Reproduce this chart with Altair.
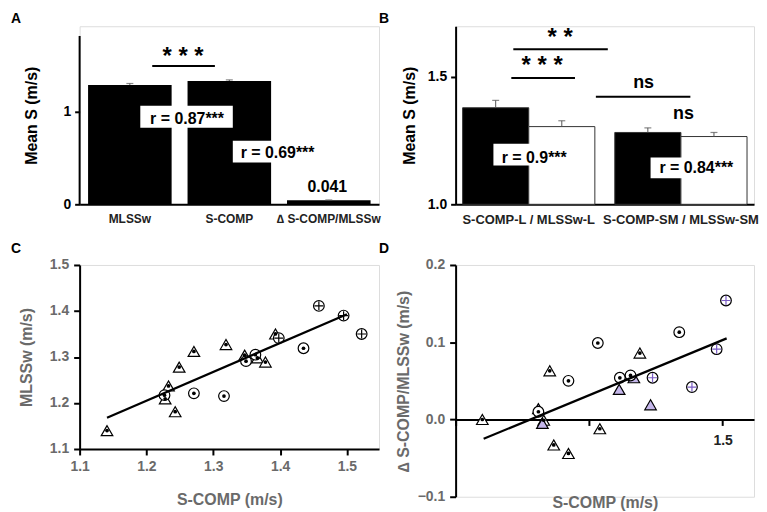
import altair as alt
import pandas as pd

FONT = "Liberation Sans"
GRAY = "#6a6a6a"
PURPLE_FILL = "#c4b6ea"
PURPLE = "#7a5cc4"

# ---------------- Panel A data ----------------
a_cats = ["MLSSw", "S-COMP", "∆ S-COMP/MLSSw"]
a_vals = [1.290, 1.333, 0.043]
a_errs = [0.016, 0.012, 0.004]

# ---------------- Panel B data ----------------
b_groups = ["S-COMP-L / MLSSw-L", "S-COMP-SM / MLSSw-SM"]
b_series = ["S-COMP", "MLSSw"]
b_scomp = [1.379, 1.282]
b_scomp_err = [0.029, 0.018]
b_mlss = [1.305, 1.266]
b_mlss_err = [0.023, 0.016]

# ---------------- Panel C data ----------------
c_tri_x = [1.141, 1.228, 1.233, 1.249, 1.243, 1.271, 1.319, 1.347, 1.366, 1.378, 1.393]
c_tri_y = [1.140, 1.209, 1.237, 1.278, 1.181, 1.312, 1.327, 1.304, 1.298, 1.289, 1.350]
c_circ_x = [1.227, 1.271, 1.316, 1.349, 1.363, 1.435]
c_circ_y = [1.217, 1.221, 1.215, 1.291, 1.305, 1.319]
c_plus_x = [1.398, 1.458, 1.495, 1.522]
c_plus_y = [1.341, 1.411, 1.390, 1.350]
c_fit_x = [1.141, 1.500]
c_fit_y = [1.168, 1.393]

# ---------------- Panel D data ----------------
d_tri_x = [1.140, 1.232, 1.241, 1.247, 1.269, 1.316, 1.376]
d_tri_y = [0.000, -0.001, 0.063, -0.033, -0.044, -0.012, 0.086]
d_trip_x = [1.224, 1.230, 1.345, 1.367, 1.392]
d_trip_y = [0.014, -0.005, 0.039, 0.054, 0.019]
d_circ_x = [1.224, 1.269, 1.313, 1.346, 1.362, 1.435]
d_circ_y = [0.010, 0.050, 0.099, 0.054, 0.057, 0.113]
d_plus_x = [1.395, 1.454, 1.491, 1.505]
d_plus_y = [0.054, 0.042, 0.091, 0.154]
d_fit_x = [1.142, 1.506]
d_fit_y = [-0.025, 0.105]


# ---------------- helpers ----------------
def hline(y, x0, x1):
    return alt.Chart(pd.DataFrame({"val": [y]})).mark_rule(color="black", strokeWidth=2).encode(
        y="val:Q", x=alt.value(x0), x2=alt.value(x1))


def label(t, x, y, size, weight="bold"):
    return alt.Chart(pd.DataFrame({"val": [y], "t": [t]})).mark_text(
        font=FONT, fontSize=size, fontWeight=weight, color="black", align="center", baseline="alphabetic"
    ).encode(y="val:Q", x=alt.value(x), text="t:N")


def box(x0, x1, y0, y1):
    return alt.Chart(pd.DataFrame({"val": [y0], "val2": [y1]})).mark_rect(color="white").encode(
        x=alt.value(x0), x2=alt.value(x1), y="val:Q", y2="val2:Q")


def letter(t, x, y):
    return alt.Chart(pd.DataFrame({"t": [t]})).mark_text(
        font=FONT, fontSize=14, fontWeight="bold", color="black", align="left", baseline="alphabetic"
    ).encode(text="t:N", x=alt.value(x), y=alt.value(y))


# ---------------- Panel A ----------------
dfA = pd.DataFrame({"cat": a_cats, "val": a_vals, "top": [v + e for v, e in zip(a_vals, a_errs)]})
xA = alt.X("cat:N", sort=a_cats, title=None,
           scale=alt.Scale(paddingInner=0.16, paddingOuter=0.085),
           axis=alt.Axis(labelAngle=0, ticks=False, domainColor="black", domainWidth=2,
                         labelFont=FONT, labelFontSize=12, labelFontWeight="bold",
                         labelColor="#222", labelPadding=9, labelOverlap=False))
yA = alt.Y("val:Q", title="Mean S (m/s)", scale=alt.Scale(domain=[0, 1.925], nice=False),
           axis=alt.Axis(values=[0, 1], format="d", domain=False, grid=False, tickColor="black",
                         tickWidth=2, tickSize=5, labelFont=FONT, labelFontSize=14,
                         labelFontWeight="bold", labelColor="black", labelPadding=4,
                         titleFont=FONT, titleFontSize=16, titleFontWeight="bold",
                         titleColor="black", titlePadding=24))
xA_plain = alt.X("cat:N", sort=a_cats)

barsA = alt.Chart(dfA).mark_bar(color="black").encode(x=xA, y=yA)
errA = alt.Chart(dfA).mark_rule(color="#555", strokeWidth=1).encode(x=xA_plain, y="val:Q", y2="top:Q")
capA = alt.Chart(dfA).mark_tick(color="#555", thickness=1.2, size=7, orient="horizontal").encode(
    x=xA_plain, y="top:Q")
axA = alt.Chart(pd.DataFrame({"val": [0.0], "val2": [1.82]})).mark_rule(color="black", strokeWidth=2).encode(
    x=alt.value(0), y="val:Q", y2="val2:Q")

panelA = alt.layer(
    barsA, errA, capA, axA,
    hline(1.495, 73, 136), label("* * *", 104, 1.52, 24),
    box(61, 154, 1.065, 0.828), label("r = 0.87***", 108, 0.871, 16),
    box(154, 241, 0.688, 0.452), label("r = 0.69***", 199, 0.505, 16),
    label("0.041", 249, 0.129, 16),
    letter("A", -69, -3),
).properties(width=301, height=179)

# ---------------- Panel B ----------------
rows = []
for g, s, se, m, me in zip(b_groups, b_scomp, b_scomp_err, b_mlss, b_mlss_err):
    rows.append({"group": g, "series": "S-COMP", "val": s, "top": s + se, "base": 1.0})
    rows.append({"group": g, "series": "MLSSw", "val": m, "top": m + me, "base": 1.0})
dfB = pd.DataFrame(rows)

xB = alt.X("group:N", sort=b_groups, title=None,
           scale=alt.Scale(paddingInner=0.131, paddingOuter=0.046),
           axis=alt.Axis(labelAngle=0, ticks=False, domainColor="black", domainWidth=2,
                         labelFont=FONT, labelFontSize=13, labelFontWeight="bold",
                         labelColor="#222", labelPadding=9, labelOverlap=False))
xB_plain = alt.X("group:N", sort=b_groups)
xoB = alt.XOffset("series:N", sort=b_series, scale=alt.Scale(paddingInner=0, paddingOuter=0))
yB = alt.Y("val:Q", title="Mean S (m/s)", stack=None,
           scale=alt.Scale(domain=[1.0, 1.699], nice=False, zero=False),
           axis=alt.Axis(values=[1.0, 1.5], format=".1f", grid=False, domainColor="black",
                         domainWidth=2, tickColor="black", tickWidth=2, tickSize=5,
                         labelFont=FONT, labelFontSize=14, labelFontWeight="bold",
                         labelColor="black", labelPadding=4, titleFont=FONT, titleFontSize=16,
                         titleFontWeight="bold", titleColor="black", titlePadding=10))

barsB = alt.Chart(dfB).mark_bar(stroke="#333", strokeWidth=1).encode(
    x=xB, xOffset=xoB, y=yB, y2="base:Q",
    fill=alt.Fill("series:N", scale=alt.Scale(domain=b_series, range=["black", "white"]), legend=None))
errB = alt.Chart(dfB).mark_rule(color="#555", strokeWidth=1).encode(
    x=xB_plain, xOffset=xoB, y="val:Q", y2="top:Q")
capB = alt.Chart(dfB).mark_tick(color="#555", thickness=1.2, size=7, orient="horizontal").encode(
    x=xB_plain, xOffset=xoB, y="top:Q")

panelB = alt.layer(
    barsB, errB, capB,
    hline(1.609, 58, 153), label("* *", 105, 1.627, 24),
    hline(1.496, 56, 120), label("* * *", 87, 1.514, 24),
    hline(1.422, 141, 236), label("ns", 189, 1.458, 18),
    label("ns", 229, 1.333, 18),
    box(38, 113, 1.238, 1.152), label("r = 0.9***", 79, 1.164, 16),
    box(196, 283, 1.184, 1.102), label("r = 0.84***", 242, 1.121, 16),
    letter("B", -77, -3),
).properties(width=300, height=179)


# ---------------- scatter helpers ----------------
def pts(xs, ys):
    return pd.DataFrame({"x": xs, "y": ys})


def tri(df, fill="white"):
    return alt.Chart(df).mark_point(shape="triangle-up", filled=True, fill=fill, stroke="black",
                                    strokeWidth=1.2, size=135, opacity=1).encode(x="x:Q", y="y:Q")


def circ(df):
    return alt.Chart(df).mark_point(shape="circle", filled=True, fill="white", stroke="black",
                                    strokeWidth=1.2, size=115, opacity=1).encode(x="x:Q", y="y:Q")


def dot(df):
    return alt.Chart(df).mark_point(shape="circle", filled=True, fill="black", color="black",
                                    strokeWidth=0, size=14, opacity=1).encode(x="x:Q", y="y:Q")


def plus(df, color="black"):
    return alt.Chart(df).mark_point(shape="M-1,0L1,0M0,-1L0,1", filled=False, stroke=color,
                                    strokeWidth=1.2, size=80, opacity=1).encode(x="x:Q", y="y:Q")


def fit(df):
    return alt.Chart(df).mark_line(color="black", strokeWidth=2.2).encode(x="x:Q", y="y:Q")


def axis_kw(**extra):
    kw = dict(grid=False, domainColor="black", domainWidth=2, tickColor="black", tickWidth=2,
              tickSize=6, labelFont=FONT, labelFontSize=14, labelFontWeight="bold",
              labelColor=GRAY, labelFlush=False, labelOverlap=False, titleFont=FONT,
              titleFontSize=16, titleFontWeight="bold", titleColor=GRAY)
    kw.update(extra)
    return alt.Axis(**kw)


# ---------------- Panel C ----------------
xC = alt.X("x:Q", title="S-COMP (m/s)", scale=alt.Scale(domain=[1.1, 1.548], nice=False, zero=False),
           axis=axis_kw(values=[1.1, 1.2, 1.3, 1.4, 1.5], format=".1f", labelPadding=5, titlePadding=18))
yC = alt.Y("y:Q", title="MLSSw (m/s)", scale=alt.Scale(domain=[1.1, 1.5], nice=False, zero=False),
           axis=axis_kw(values=[1.1, 1.2, 1.3, 1.4, 1.5], format=".1f", labelPadding=5, titlePadding=15))

c_tri = pts(c_tri_x, c_tri_y)
c_circ = pts(c_circ_x, c_circ_y)
c_plus = pts(c_plus_x, c_plus_y)
baseC = alt.Chart(c_tri).mark_point(opacity=0).encode(x=xC, y=yC)
panelC = alt.layer(
    baseC, tri(c_tri), circ(c_circ), circ(c_plus), plus(c_plus), dot(c_tri), dot(c_circ),
    fit(pts(c_fit_x, c_fit_y)),
    letter("C", -69, -12),
).properties(width=301, height=185)

# ---------------- Panel D ----------------
xD = alt.X("x:Q", title="S-COMP (m/s)", scale=alt.Scale(domain=[1.1, 1.547], nice=False, zero=False),
           axis=axis_kw(values=[1.1, 1.3, 1.5], labelExpr="datum.value > 1.45 ? '1.5' : ''",
                        labelColor="#222", offset=-77.7, labelPadding=8, titlePadding=48))
yD = alt.Y("y:Q", title="∆ S-COMP/MLSSw (m/s)", scale=alt.Scale(domain=[-0.1, 0.2], nice=False, zero=False),
           axis=axis_kw(values=[-0.1, 0.0, 0.1, 0.2], format=".1f", labelPadding=5, titlePadding=6))

d_tri = pts(d_tri_x, d_tri_y)
d_trip = pts(d_trip_x, d_trip_y)
d_circ = pts(d_circ_x, d_circ_y)
d_plus = pts(d_plus_x, d_plus_y)
baseD = alt.Chart(d_tri).mark_point(opacity=0).encode(x=xD, y=yD)
panelD = alt.layer(
    baseD, tri(d_tri), tri(d_trip, fill=PURPLE_FILL), circ(d_circ),
    circ(d_plus), plus(d_plus, color=PURPLE), dot(d_tri), dot(d_circ),
    fit(pts(d_fit_x, d_fit_y)),
    letter("D", -77, -12),
).properties(width=300, height=233)

chart = alt.concat(
    panelA, panelB, panelC, panelD, columns=2, spacing={"row": 61, "column": 77},
    bounds="flush", align="each",
).properties(
    padding={"left": 2, "top": 2, "right": 0, "bottom": 0}
).configure_view(stroke=None).configure(font=FONT)

chart.save("out.html", embed_options={"renderer": "svg", "actions": False})
